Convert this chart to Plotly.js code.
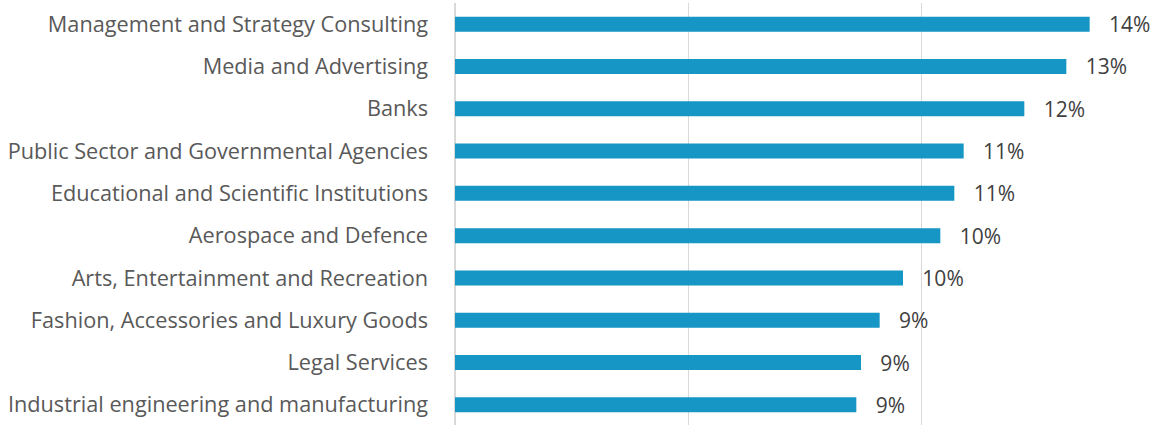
<!DOCTYPE html>
<html>
<head>
<meta charset="utf-8">
<script src="https://cdn.plot.ly/plotly-3.0.1.min.js"></script>
<style>
  html, body { margin: 0; padding: 0; background: #ffffff; overflow: hidden; }
  #chart { width: 1165px; height: 425px; }
</style>
</head>
<body>
<div id="chart"></div>
<script>
const categories = [
  "Management and Strategy Consulting",
  "Media and Advertising",
  "Banks",
  "Public Sector and Governmental Agencies",
  "Educational and Scientific Institutions",
  "Aerospace and Defence",
  "Arts, Entertainment and Recreation",
  "Fashion, Accessories and Luxury Goods",
  "Legal Services",
  "Industrial engineering and manufacturing"
];
const shares = [0.136, 0.131, 0.122, 0.109, 0.107, 0.104, 0.096, 0.091, 0.087, 0.086];
const shareLabels = ["14%", "13%", "12%", "11%", "11%", "10%", "10%", "9%", "9%", "9%"];

const trace = {
  type: "bar",
  orientation: "h",
  y: categories,
  x: shares,
  text: shareLabels.map(s => "   " + s),
  textposition: "outside",
  constraintext: "none",
  cliponaxis: false,
  textfont: { family: "Open Sans, sans-serif", size: 21, color: "#404040" },
  marker: { color: "#1596c4" },
  hoverinfo: "none"
};

const layout = {
  width: 1165,
  height: 428,
  margin: { l: 455, r: 10, t: 3, b: 2, pad: 0 },
  paper_bgcolor: "#ffffff",
  plot_bgcolor: "#ffffff",
  bargap: 0.645,
  showlegend: false,
  font: { family: "Open Sans, sans-serif", size: 21.7, color: "#595959" },
  xaxis: {
    range: [0, 0.15],
    dtick: 0.05,
    tick0: 0,
    showticklabels: false,
    showgrid: true,
    gridcolor: "#d9d9d9",
    gridwidth: 1.5,
    zeroline: true,
    zerolinecolor: "#d9d9d9",
    zerolinewidth: 1.5,
    showline: false,
    fixedrange: true
  },
  yaxis: {
    autorange: "reversed",
    showgrid: false,
    zeroline: false,
    showline: false,
    ticks: "",
    ticklabelstandoff: 26,
    tickfont: { family: "Open Sans, sans-serif", size: 21.7, color: "#595959" },
    fixedrange: true
  }
};

Plotly.newPlot("chart", [trace], layout, { displayModeBar: false, staticPlot: true });
</script>
</body>
</html>
